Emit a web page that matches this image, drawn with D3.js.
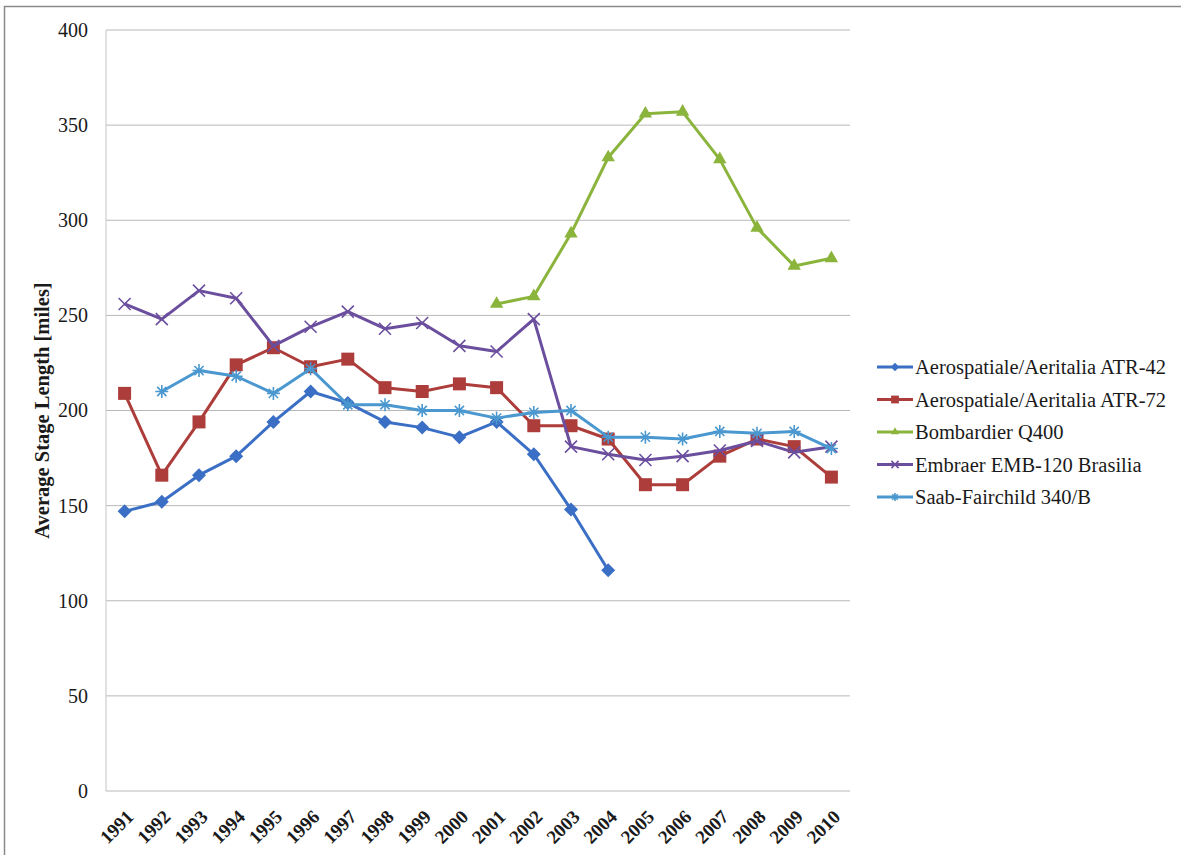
<!DOCTYPE html>
<html>
<head>
<meta charset="utf-8">
<script src="https://cdnjs.cloudflare.com/ajax/libs/d3/7.8.5/d3.min.js"></script>
<style>
  body { margin: 0; background: #fff; }
  svg { display: block; }
  svg text { font-family: 'Liberation Serif', 'DejaVu Serif', serif; fill: #1a1a1a; }
</style>
</head>
<body>
<div id="chart"></div>
<script>
const years = d3.range(1991, 2011).map(String);

// values, null = no data
const atr42 = [147, 152, 166, 176, 194, 210, 204, 194, 191, 186, 194, 177, 148, 116, null, null, null, null, null, null];
const atr72 = [209, 166, 194, 224, 233, 223, 227, 212, 210, 214, 212, 192, 192, 185, 161, 161, 176, 185, 181, 165];
const q400 = [null, null, null, null, null, null, null, null, null, null, 256, 260, 293, 333, 356, 357, 332, 296, 276, 280];
const emb120 = [256, 248, 263, 259, 234, 244, 252, 243, 246, 234, 231, 248, 181, 177, 174, 176, 179, 184, 178, 181];
const saab340 = [null, 210, 221, 218, 209, 222, 203, 203, 200, 200, 196, 199, 200, 186, 186, 185, 189, 188, 189, 180];

const yTicks = [0, 50, 100, 150, 200, 250, 300, 350, 400];

const series = [
  {name: 'Aerospatiale/Aeritalia ATR-42', values: atr42, color: '#3b6fc5', marker: 'diamond'},
  {name: 'Aerospatiale/Aeritalia ATR-72', values: atr72, color: '#ad3d3a', marker: 'square'},
  {name: 'Bombardier Q400', values: q400, color: '#8bb43c', marker: 'triangle'},
  {name: 'Embraer EMB-120 Brasilia', values: emb120, color: '#6b4f9e', marker: 'x'},
  {name: 'Saab-Fairchild 340/B', values: saab340, color: '#4a98cf', marker: 'star'}
];

const W = 1181, H = 855;
const margin = {top: 30, left: 106, right: 331, bottom: 64};
const width = W - margin.left - margin.right,
      height = H - margin.top - margin.bottom;

const svg = d3.select('#chart').append('svg')
  .attr('width', W)
  .attr('height', H);

// outer frame
svg.append('rect')
  .attr('x', 4.5).attr('y', 6.5)
  .attr('width', W + 10).attr('height', H + 10)
  .attr('fill', 'none')
  .attr('stroke', '#8a8a8a')
  .attr('stroke-width', 1.5);

const g = svg.append('g')
  .attr('transform', `translate(${margin.left},${margin.top})`);

const x = d3.scaleBand().domain(years).range([0, width]);
const y = d3.scaleLinear().domain([0, 400]).range([height, 0]);
const cx = d => x(d) + x.bandwidth() / 2;

// gridlines
g.append('g')
  .selectAll('line')
  .data(yTicks)
  .enter()
  .append('line')
    .attr('x1', 0).attr('x2', width)
    .attr('y1', d => y(d)).attr('y2', d => y(d))
    .attr('stroke', '#b8b8b8')
    .attr('stroke-width', 1);

// left axis line
g.append('line')
  .attr('x1', 0).attr('x2', 0)
  .attr('y1', 0).attr('y2', height)
  .attr('stroke', '#c4c4c4');

// y axis
const yAxis = d3.axisLeft(y).tickValues(yTicks).tickSize(0).tickPadding(18);
g.append('g')
  .call(yAxis)
  .call(a => a.select('.domain').remove())
  .selectAll('text')
    .attr('font-family', null)
    .style('font-size', '20px');

// x axis
const xAxis = d3.axisBottom(x).tickSize(0).tickPadding(0);
g.append('g')
  .attr('transform', `translate(0,${height})`)
  .call(xAxis)
  .call(a => a.select('.domain').remove())
  .selectAll('text')
    .attr('font-family', null)
    .attr('text-anchor', 'end')
    .attr('dy', 0)
    .attr('transform', 'translate(10,27) rotate(-45)')
    .style('font-weight', 'bold')
    .style('font-size', '19px');

// y title
svg.append('text')
  .attr('transform', `translate(49,${margin.top + height / 2}) rotate(-90)`)
  .attr('text-anchor', 'middle')
  .style('font-weight', 'bold')
  .style('font-size', '20.5px')
  .text('Average Stage Length [miles]');

// marker shapes
const markerPath = {
  diamond: 'M0,-7L7,0L0,7L-7,0Z',
  square: 'M-6.5,-6.5H6.5V6.5H-6.5Z',
  triangle: d3.symbol().type(d3.symbolTriangle).size(78)(),
  x: 'M-6,-6L6,6M-6,6L6,-6',
  star: 'M-6.5,0H6.5M0,-6.5V6.5M-4.6,-4.6L4.6,4.6M-4.6,4.6L4.6,-4.6'
};

const drawMarker = (sel, s, scale) => {
  const stroked = s.marker === 'x' || s.marker === 'star';
  sel.append('path')
    .attr('d', markerPath[s.marker])
    .attr('transform', `scale(${scale})`)
    .attr('fill', stroked ? 'none' : s.color)
    .attr('stroke', s.color)
    .attr('stroke-width', stroked ? 1.6 / scale : 0);
};

const line = d3.line()
  .defined(d => d.v != null)
  .x(d => cx(d.year))
  .y(d => y(d.v));

series.forEach(s => {
  const pts = years.map((yr, i) => ({year: yr, v: s.values[i]}));
  g.append('path')
    .datum(pts)
    .attr('d', line)
    .attr('fill', 'none')
    .attr('stroke', s.color)
    .attr('stroke-width', 3)
    .attr('stroke-linejoin', 'round');

  g.append('g')
    .selectAll('g')
    .data(pts.filter(d => d.v != null))
    .enter()
    .append('g')
      .attr('transform', d => `translate(${cx(d.year)},${y(d.v)})`)
      .each(function() { drawMarker(d3.select(this), s, 1); });
});

// legend
const legend = svg.append('g')
  .attr('transform', 'translate(877,367)');

series.forEach((s, i) => {
  const row = legend.append('g').attr('transform', `translate(0,${i * 32.5})`);
  row.append('line')
    .attr('x1', 0).attr('x2', 36)
    .attr('y1', 0).attr('y2', 0)
    .attr('stroke', s.color)
    .attr('stroke-width', 3);
  const m = row.append('g').attr('transform', 'translate(18,0)');
  drawMarker(m, s, 0.6);
  row.append('text')
    .attr('x', 38)
    .attr('y', 7)
    .style('font-size', '20.5px')
    .text(s.name);
});
</script>
</body>
</html>
